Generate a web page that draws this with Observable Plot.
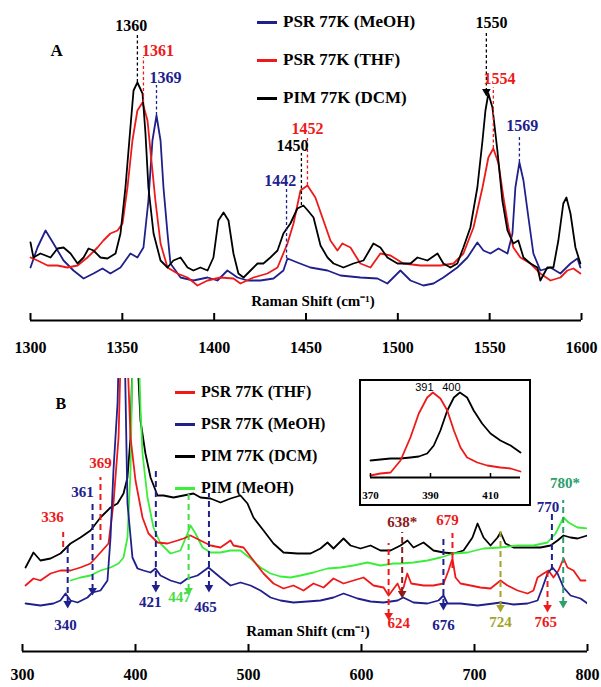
<!DOCTYPE html>
<html>
<head>
<meta charset="utf-8">
<script src="https://cdn.jsdelivr.net/npm/d3@7"></script>
<script src="https://cdn.jsdelivr.net/npm/@observablehq/plot@0.6"></script>
<style>
  html, body { margin: 0; padding: 0; background: #fff; }
  #wrap { position: relative; width: 601px; height: 687px; background: #fff; overflow: hidden; }
  .abs { position: absolute; }
  .leg { position: absolute; display: flex; align-items: center; height: 20px; white-space: nowrap;
         font-weight: bold; color: #000; }
  .sw { display: inline-block; width: 20px; height: 3px; margin-right: 6px; }
  #inset { position: absolute; left: 359px; top: 379px; width: 172px; height: 127px; box-sizing: border-box;
           border: 2px solid #000; background: #fff; }
</style>
</head>
<body>
<div id="wrap">
  <div id="panelA" class="abs" style="left:0;top:0;width:601px;height:362px"></div>
  <div id="panelB" class="abs" style="left:0;top:362px;width:601px;height:325px"></div>
  <div id="inset"></div>
</div>
<script>
// ---------- colours ----------
const BLUE = "#20208c", RED = "#ee1a1a", BLACK = "#000000", GREEN = "#3aee3a";
const GREEN_LBL = "#44dd44", OLIVE = "#a3a32a", BROWN = "#8b1c1c", TEAL = "#2e9e6e";

// ---------- Panel A (1300-1600 cm-1) ----------
const ticksA = [1300, 1350, 1400, 1450, 1500, 1550, 1600];
const aBlue = [[1300,33],[1303.8,53],[1308.2,70],[1312.5,57],[1318,40],[1323.4,30],[1328.9,22],[1334.3,27],[1339.2,32],[1343.5,27],[1349,33],[1354.4,47],[1358.2,43],[1361.5,53],[1364.2,100],[1366.4,160],[1368.6,185],[1370.8,160],[1372.4,113],[1374.6,67],[1376.2,37],[1381.7,23],[1388.7,20],[1396.4,23],[1401.8,20],[1407.2,30],[1412.7,23],[1418.1,20],[1425.2,20],[1432.3,22],[1437.7,30],[1439.9,42],[1445.3,38],[1452.4,33],[1461.7,30],[1468.8,25],[1479.6,23],[1488.9,22],[1494.3,17],[1501.4,30],[1506.9,20],[1513.9,15],[1519.4,17],[1524.8,23],[1532.4,33],[1537.9,43],[1543.3,58],[1546.6,50],[1550.4,47],[1554.8,52],[1559.7,47],[1562.4,67],[1564,113],[1566.2,138],[1568.4,120],[1571.1,83],[1573.8,47],[1577.6,30],[1583.1,33],[1588.5,27],[1594,37],[1597.8,42],[1599.4,33]];
const aRed = [[1300,43],[1303.8,40],[1309.3,35],[1314.7,35],[1320.1,33],[1325.6,35],[1331,43],[1336.5,53],[1339.7,60],[1343.5,67],[1347.4,70],[1350.1,77],[1352.8,113],[1355.5,160],[1358.2,190],[1361,198],[1363.7,180],[1365.3,150],[1368,100],[1370.8,57],[1374.6,33],[1380,27],[1385.5,23],[1390.9,15],[1396.4,20],[1403.4,23],[1410.5,22],[1414.3,17],[1421.4,23],[1429,27],[1434.5,33],[1439.9,57],[1443.2,77],[1447,110],[1450.8,115],[1455.1,103],[1459.5,80],[1463.3,60],[1467.1,50],[1469.8,57],[1474.2,53],[1479.6,37],[1485.1,33],[1490.5,47],[1496,45],[1503,37],[1512.3,35],[1523.2,35],[1530.3,37],[1535.7,47],[1541.2,73],[1546.1,113],[1549.3,143],[1552,152],[1554.8,137],[1557.5,103],[1560.2,73],[1562.9,53],[1566.7,43],[1572.2,37],[1577.6,27],[1583.1,20],[1588.5,23],[1592.3,30],[1595.6,32],[1599.4,27]];
const aBlack = [[1300,58],[1301.6,43],[1305.4,47],[1310.9,43],[1314.7,52],[1318,53],[1321.8,47],[1325.6,37],[1328.9,43],[1331.6,52],[1334.3,50],[1338.1,43],[1341.9,42],[1346.3,47],[1349,67],[1351.7,113],[1354.4,173],[1356.1,210],[1358.2,218],[1361,207],[1362.6,167],[1364.2,113],[1367,67],[1370.8,40],[1374.6,33],[1377.8,40],[1381.7,43],[1385.5,33],[1388.7,30],[1392.5,33],[1396.4,30],[1399.6,43],[1402.3,80],[1405.1,88],[1407.8,80],[1410.5,47],[1413.2,27],[1416,23],[1419.8,30],[1423.6,37],[1426.8,37],[1430.6,43],[1434.5,50],[1437.7,67],[1441.5,77],[1445.3,92],[1448.6,95],[1451,90],[1454.1,83],[1457.9,55],[1461.7,43],[1465,37],[1470.4,33],[1475.8,37],[1481.3,40],[1486.7,57],[1490.5,53],[1494.3,43],[1499.8,37],[1506.9,37],[1510.7,43],[1516.1,40],[1521.6,47],[1524.8,37],[1528.6,33],[1532.4,37],[1535.7,53],[1539.5,73],[1543.3,113],[1546.1,160],[1547.7,190],[1549.3,207],[1551.5,193],[1554.2,150],[1556.9,100],[1559.7,70],[1562.9,57],[1565.6,60],[1568.4,43],[1572.2,37],[1576,33],[1577.6,20],[1581.4,33],[1584.7,33],[1587.4,60],[1590.1,97],[1591.8,103],[1594,87],[1596.7,53],[1599.4,37]];
const legendA = [["PSR 77K (MeOH)", BLUE], ["PSR 77K (THF)", RED], ["PIM 77K (DCM)", BLACK]];
const peaksA = [
  {wn:1358.2, lx:1354.9, ly:275, top:267, bot:218, text:"1360", color:BLACK, arrow:false},
  {wn:1361.5, lx:1369.4, ly:250, top:243, bot:198, text:"1361", color:RED, arrow:false},
  {wn:1368.6, lx:1373.5, ly:223, top:215, bot:185, text:"1369", color:BLUE, arrow:false},
  {wn:1447.5, lx:1442.6, ly:155, top:147, bot:95, text:"1450", color:BLACK, arrow:false},
  {wn:1450.8, lx:1450.8, ly:172, top:163, bot:115, text:"1452", color:RED, arrow:false},
  {wn:1439.4, lx:1436, ly:120, top:112, bot:42, text:"1442", color:BLUE, arrow:false},
  {wn:1548.2, lx:1551, ly:278, top:267, bot:209, text:"1550", color:BLACK, arrow:true},
  {wn:1552, lx:1555.3, ly:222, top:213, bot:152, text:"1554", color:RED, arrow:false},
  {wn:1566.2, lx:1567.8, ly:175, top:163, bot:138, text:"1569", color:BLUE, arrow:false}
];

// ---------- Panel B (300-800 cm-1) ----------
const ticksB = [300, 400, 500, 600, 700, 800];
const bRed = [[302.7,65],[309.7,72],[315.9,70],[324.8,77],[333.6,80],[342.5,80],[351.3,83],[360.2,87],[369,98],[376.1,107],[380.5,147],[385,213],[387,300],[389.5,420],[392,320],[395.6,213],[400,170],[406.2,133],[411.5,117],[419.5,108],[428.3,107],[437.2,110],[442.5,112],[448.7,115],[457.5,110],[466.4,105],[475.2,103],[484.1,110],[486.7,105],[495.6,103],[504.4,90],[513.3,77],[522.1,67],[531,62],[539.8,65],[548.7,60],[557.5,67],[566.4,63],[575.2,72],[584.1,67],[592.9,70],[601.8,73],[610.6,65],[619.5,63],[624,55],[631.9,67],[634.5,60],[637.2,63],[640.5,77],[644,67],[654.9,65],[663.7,65],[672.6,67],[677,80],[680.5,92],[683.2,73],[687.6,67],[696.5,65],[705.3,63],[714.2,62],[723,70],[729.2,65],[738.1,60],[746.9,57],[752.2,60],[755.8,73],[761.1,77],[765.5,80],[769.9,73],[774.3,80],[778.8,92],[782.3,83],[787.6,80],[793.8,70],[798.2,70]];
const bBlue = [[302.7,47],[315.9,45],[327.4,47],[333.6,50],[338.1,57],[342.5,50],[348.7,48],[357.5,53],[361.9,58],[369,60],[375.2,70],[377.9,113],[380.5,180],[384.1,247],[386,330],[387.8,420],[390,330],[392.9,147],[397.3,93],[401.8,82],[407.1,80],[413.3,78],[417.7,82],[422.1,75],[431,70],[439.8,67],[446,72],[454.9,75],[464.6,83],[475.2,73],[484.1,65],[492.9,68],[501.8,65],[510.6,60],[519.5,53],[528.3,50],[539.8,48],[552.2,49],[563.7,50],[575.2,53],[584.1,57],[596.5,52],[608,49],[619.5,48],[631.9,50],[637,53],[646,48],[658.4,47],[668.1,50],[672.6,55],[676.1,47],[687.6,47],[702.7,45],[716.8,47],[723,48],[734.5,46],[746.9,47],[755.8,50],[760.2,63],[764.6,77],[769,83],[773.5,77],[778.8,63],[785,55],[793.8,52],[800,47]];
const bBlack = [[302.7,83],[309.7,98],[315.9,90],[324.8,92],[333.6,97],[342.5,107],[351.3,113],[360.2,120],[369,133],[377.9,143],[384.1,147],[389.4,157],[392.9,173],[395.6,213],[397.5,300],[399.5,420],[401.5,300],[404.4,230],[408.8,197],[413.3,173],[419.5,155],[424.8,155],[433.6,153],[442.5,155],[451.3,157],[457.5,153],[466.4,152],[475.2,148],[484.1,152],[492.9,155],[499.1,147],[504.4,133],[513.3,120],[522.1,107],[531,98],[543.4,97],[554.9,97],[563.7,102],[569.9,108],[575.2,102],[584.1,112],[590.3,105],[599.1,102],[608,105],[616.8,100],[625.7,100],[634.5,105],[640.7,110],[646,103],[654.9,108],[663.7,100],[672.6,98],[681.4,97],[690.3,100],[698.2,113],[702.7,127],[708,113],[714.2,105],[720.4,113],[723,118],[727.4,107],[734.5,103],[746.9,103],[758.4,103],[767.3,105],[773.5,110],[778.8,115],[785,113],[791.2,112],[800,115]];
const bGreen = [[342.5,70],[351.3,73],[360.2,75],[369,80],[377.9,83],[385,87],[389.4,93],[392.9,113],[395.6,180],[397.5,300],[399.5,420],[402,330],[404.5,240],[406.2,197],[410.6,153],[415.9,123],[422.1,107],[431,97],[439.8,100],[446,117],[448.7,125],[453.1,117],[459.3,103],[466.4,98],[475.2,98],[484.1,100],[492.9,100],[501.8,92],[510.6,83],[519.5,77],[528.3,74],[537.2,73],[546,75],[557.5,78],[569.9,82],[581.4,83],[592.9,85],[605.3,88],[616.8,85],[628.3,87],[634.5,87],[646,88],[658.4,90],[669.9,93],[681.4,97],[693.8,98],[708,102],[723,103],[738.1,105],[752.2,105],[764.6,108],[771.7,117],[778.8,133],[783.2,128],[791.2,123],[800,122]];
const legendB = [["PSR 77K (THF)", RED], ["PSR 77K (MeOH)", BLUE], ["PIM 77K (DCM)", BLACK], ["PIM (MeOH)", GREEN]];
const peaksB = [
  {wn:336, lx:326.5, ly:133, top:118, bot:103, text:"336", color:RED, arrow:false},
  {wn:340, lx:338, ly:25, top:103, bot:47, text:"340", color:BLUE, arrow:true},
  {wn:362, lx:353, ly:158, top:147, bot:60, text:"361", color:BLUE, arrow:true},
  {wn:369, lx:369, ly:187, top:173, bot:110, text:"369", color:RED, arrow:false},
  {wn:418, lx:413, ly:48, top:180, bot:63, text:"421", color:BLUE, arrow:true},
  {wn:447, lx:439, ly:53, top:163, bot:60, text:"447", color:GREEN_LBL, arrow:true},
  {wn:465, lx:462, ly:43, top:157, bot:63, text:"465", color:BLUE, arrow:true},
  {wn:624, lx:633, ly:27, top:107, bot:35, text:"624", color:RED, arrow:true},
  {wn:636, lx:636, ly:128, top:118, bot:57, text:"638*", color:BROWN, arrow:true},
  {wn:680.5, lx:676, ly:130, top:117, bot:82, text:"679", color:RED, arrow:false},
  {wn:672.5, lx:672.5, ly:25, top:113, bot:45, text:"676", color:BLUE, arrow:true},
  {wn:723, lx:723, ly:28, top:123, bot:43, text:"724", color:OLIVE, arrow:true},
  {wn:764.6, lx:763, ly:28, top:83, bot:43, text:"765", color:RED, arrow:true},
  {wn:768.5, lx:765, ly:143, top:138, bot:80, text:"770", color:BLUE, arrow:false},
  {wn:778.5, lx:780, ly:167, top:150, bot:47, text:"780*", color:TEAL, arrow:true}
];

// ---------- Inset (370-420 cm-1) ----------
const ticksInset = [370, 390, 410];
const insetRed = [[370,5],[373.3,7],[376.7,8],[380,20],[383.3,43],[386.1,67],[388.9,83],[390.8,88],[393.3,82],[395.6,70],[397.8,50],[400,33],[402.2,23],[405.6,18],[408.9,15],[413.3,13],[416.7,12],[420,9]];
const insetBlack = [[370,20],[373.3,21],[376.7,22],[380,22],[383.3,23],[386.1,24],[388.9,27],[391.1,35],[393.3,50],[395.6,70],[397.8,83],[399.8,88],[402.2,83],[404.4,70],[407.2,57],[410,47],[413.3,40],[416.7,35],[420,28]];
const insetLabels = [{x:391, y:93, text:"391"}, {x:400, y:93, text:"400"}];

// ---------- font detection (pick an installed serif face) ----------
function pickFont(cands, fallback) {
  const c = document.createElement("canvas").getContext("2d");
  const probe = "PSR 77K (MeOH) 1300 Raman Shift";
  const w = f => { c.font = "bold 40px " + f; return c.measureText(probe).width; };
  const wMono = w("monospace"), wSans = w("sans-serif");
  for (const name of cands) {
    const a = w(`"${name}", monospace`), b = w(`"${name}", sans-serif`);
    if (a !== wMono || b !== wSans) return `"${name}", ${fallback}`;
  }
  return fallback;
}
const SERIF = pickFont(["Liberation Serif", "Times New Roman", "Tinos", "DejaVu Serif", "Noto Serif", "FreeSerif", "Nimbus Roman", "Times"], "serif");
const SANS = pickFont(["Liberation Sans", "Arial", "DejaVu Sans"], "sans-serif");

// ---------- drawing ----------
const yA = [-20, 300], yB = [-1, 272], yI = [3, 99];
const X = d => d[0], Y = d => d[1];

function peakMarks(peaks, dash, width, fsize) {
  return [
    Plot.ruleX(peaks, {x: "wn", y1: "bot", y2: "top", stroke: "color", strokeDasharray: dash, strokeWidth: width}),
    Plot.dot(peaks.filter(d => d.arrow), {x: "wn", y: "bot", symbol: "triangle", rotate: 180, r: 3.2, fill: "color", stroke: null}),
    Plot.text(peaks, {x: "lx", y: "ly", text: "text", fill: "color", fontSize: fsize, fontWeight: "bold", fontFamily: SERIF})
  ];
}

const hA = 362, mbA = 42, mtA = 0;
const plotA = Plot.plot({
  width: 601, height: hA, marginLeft: 30, marginRight: 20, marginTop: mtA, marginBottom: mbA,
  x: {domain: [1300, 1600], axis: null},
  y: {domain: yA, axis: null},
  color: {type: "identity"},
  style: {fontFamily: SERIF, fontWeight: "bold", fontSize: "16px", background: "transparent", overflow: "visible"},
  marks: [
    Plot.line(aBlue, {x: X, y: Y, stroke: BLUE, strokeWidth: 1.8}),
    Plot.line(aRed, {x: X, y: Y, stroke: RED, strokeWidth: 1.8}),
    Plot.line(aBlack, {x: X, y: Y, stroke: BLACK, strokeWidth: 1.8}),
    ...peakMarks(peaksA, "3,2.5", 1.3, 16),
    Plot.ruleY([yA[0]], {stroke: "#000", strokeWidth: 2}),
    Plot.tickX(ticksA, {x: d => d, insetTop: hA - mtA - mbA - 7, stroke: "#000", strokeWidth: 2}),
    Plot.axisX({ticks: ticksA, tickSize: 0, tickPadding: 21, tickFormat: d => String(d), label: null, fontSize: 16, fontWeight: "bold", fontFamily: SERIF}),
    Plot.text(["Raman Shift (cm⁻¹)"], {frameAnchor: "bottom", dx: 7, dy: -15, fontSize: 15, fontWeight: "bold", fontFamily: SERIF}),
    Plot.text(["A"], {frameAnchor: "top-left", dx: 20, dy: 43, fontSize: 17, fontWeight: "bold", fontFamily: SERIF})
  ]
});
document.getElementById("panelA").appendChild(plotA);

const hB = 325, mtB = 16, mbB = 36;
const plotB = Plot.plot({
  width: 601, height: hB, marginLeft: 22, marginRight: 14, marginTop: mtB, marginBottom: mbB,
  x: {domain: [300, 800], axis: null},
  y: {domain: yB, axis: null},
  color: {type: "identity"},
  style: {fontFamily: SERIF, fontWeight: "bold", fontSize: "16px", background: "transparent", overflow: "visible"},
  marks: [
    Plot.line(bBlack, {x: X, y: Y, stroke: BLACK, strokeWidth: 1.8, clip: true}),
    Plot.line(bGreen, {x: X, y: Y, stroke: GREEN, strokeWidth: 1.8, clip: true}),
    Plot.line(bRed, {x: X, y: Y, stroke: RED, strokeWidth: 1.8, clip: true}),
    Plot.line(bBlue, {x: X, y: Y, stroke: BLUE, strokeWidth: 1.8, clip: true}),
    ...peakMarks(peaksB, "6,4", 2, 15),
    Plot.ruleY([yB[0]], {stroke: "#000", strokeWidth: 2}),
    Plot.tickX(ticksB, {x: d => d, insetTop: hB - mtB - mbB - 7, stroke: "#000", strokeWidth: 2}),
    Plot.axisX({ticks: ticksB, tickSize: 0, tickPadding: 17, tickFormat: d => String(d), label: null, fontSize: 16, fontWeight: "bold", fontFamily: SERIF}),
    Plot.text(["Raman Shift (cm⁻¹)"], {frameAnchor: "bottom", dx: 3, dy: -16, fontSize: 15, fontWeight: "bold", fontFamily: SERIF}),
    Plot.text(["B"], {frameAnchor: "top-left", dx: 33, dy: 19, fontSize: 16, fontWeight: "bold", fontFamily: SERIF})
  ]
});
document.getElementById("panelB").appendChild(plotB);

const hI = 123, mbI = 27;
const plotI = Plot.plot({
  width: 168, height: hI, marginLeft: 9, marginRight: 9, marginTop: 0, marginBottom: mbI,
  x: {domain: [370, 420], axis: null},
  y: {domain: yI, axis: null},
  style: {fontFamily: SERIF, fontWeight: "bold", fontSize: "11px", background: "transparent", overflow: "visible"},
  marks: [
    Plot.line(insetBlack, {x: X, y: Y, stroke: BLACK, strokeWidth: 1.8}),
    Plot.line(insetRed, {x: X, y: Y, stroke: RED, strokeWidth: 1.8}),
    Plot.ruleY([yI[0]], {stroke: "#000", strokeWidth: 1.8}),
    Plot.tickX(ticksInset, {x: d => d, insetTop: hI - mbI - 4, stroke: "#000", strokeWidth: 1.5}),
    Plot.axisX({ticks: ticksInset, tickSize: 0, tickPadding: 14, tickFormat: d => String(d), label: null, fontSize: 11, fontWeight: "bold", fontFamily: SERIF}),
    Plot.text(insetLabels, {x: "x", y: "y", text: "text", textAnchor: "end", fontSize: 11, fontWeight: "normal", fontFamily: SANS, fill: "#000"})
  ]
});
document.getElementById("inset").appendChild(plotI);

// ---------- legends (HTML) ----------
function legend(items, left, top0, step, fsize) {
  const wrap = document.getElementById("wrap");
  items.forEach(([name, color], i) => {
    const row = document.createElement("div");
    row.className = "leg";
    row.style.left = left + "px";
    row.style.top = (top0 + i * step - 10) + "px";
    row.style.fontSize = fsize + "px";
    row.style.fontFamily = SERIF;
    const sw = document.createElement("span");
    sw.className = "sw";
    sw.style.background = color;
    row.appendChild(sw);
    row.appendChild(document.createTextNode(name));
    wrap.appendChild(row);
  });
}
legend(legendA, 257, 22, 38, 17);
legend(legendB, 175, 392, 32, 16);
</script>
</body>
</html>
